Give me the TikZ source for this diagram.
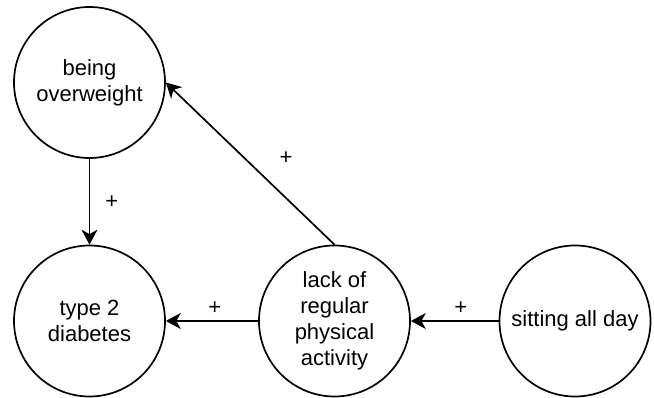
\documentclass[tikz,border=0pt]{standalone}
\usepackage{fontspec}
\setmainfont{Liberation Sans}
\usetikzlibrary{positioning,arrows.meta}
\tikzstyle{factor} = [circle,draw,minimum size=151pt,inner sep=0pt,align=center]
\tikzstyle{sign} = [inner sep=2pt]

\begin{document}
\begin{tikzpicture}[
      x=1pt, y=1pt,
      ->,
      >={Stealth[length=15pt,width=16pt,inset=4.5pt]},
      line width=1.7pt,
      auto,
      node distance=243pt,
      font=\fontsize{22}{26}\selectfont]

     \useasboundingbox (0,0) rectangle (654,-398);

     \node[factor]        (diab) at (89.5,-321)                        {type 2\\diabetes};
     \node[factor]        (over) [above of=diab,node distance=238.5pt] {being\\overweight};
     \node[factor]        (lack) [right of=diab,node distance=245pt]   {lack of\\regular\\physical\\activity};
     \node[factor]        (sit)  [right of=lack,node distance=240.5pt] {sitting all day};

     \path
       (over) edge node[sign,right=13pt] {+} (diab)
       (lack) edge node[sign,pos=0.47,above=4pt] {+} (diab)
       (lack.north) edge node[sign,pos=0.41,above right=16pt] {+} (over.east)
       (sit)  edge node[sign,pos=0.43,above=4pt] {+} (lack)
       ;

  \end{tikzpicture}
\end{document}
